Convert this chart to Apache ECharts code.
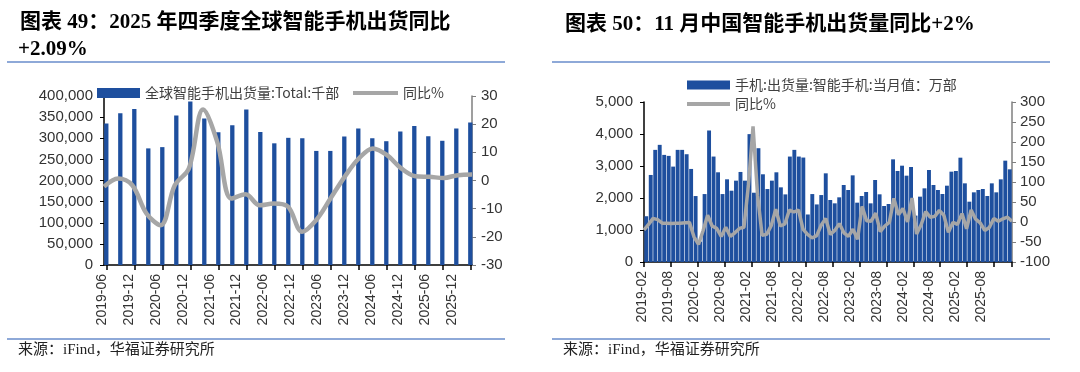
<!DOCTYPE html>
<html><head><meta charset="utf-8">
<script src="https://cdn.jsdelivr.net/npm/echarts@6/dist/echarts.min.js"></script>
<style>html,body{margin:0;padding:0;background:#fff}#c{width:1080px;height:372px}</style>
</head><body><div id="c"></div>
<script>
// ---------- Left chart: global smartphone shipments (quarterly) ----------
const quarters = ['2019-06','2019-09','2019-12','2020-03','2020-06','2020-09','2020-12','2021-03','2021-06','2021-09','2021-12','2022-03','2022-06','2022-09','2022-12','2023-03','2023-06','2023-09','2023-12','2024-03','2024-06','2024-09','2024-12','2025-03','2025-06','2025-09','2025-12'];
const globalShip = [335000,359000,369000,276000,279000,354000,387000,347000,314000,331000,368000,315000,288000,301000,300000,270000,270000,304000,323000,300000,293000,316000,329000,305000,294000,323000,337000];
const globalYoY = [-2.2,0.7,-1.7,-11.7,-15.9,-1.7,4.3,25.2,13.7,-6.4,-4.9,-8.8,-8.2,-9.3,-18.2,-14.0,-6.4,1.3,7.8,11.4,9.0,4.3,1.5,1.3,0.9,1.9,2.09];
const leftAxisL = {min:0, max:400000, interval:50000};
const leftAxisR = {min:-30, max:30, interval:10};

// ---------- Right chart: China smartphone shipments (monthly, 万部) ----------
const months = ['2019-02','2019-03','2019-04','2019-05','2019-06','2019-07','2019-08','2019-09','2019-10','2019-11','2019-12',
'2020-01','2020-02','2020-03','2020-04','2020-05','2020-06','2020-07','2020-08','2020-09','2020-10','2020-11','2020-12',
'2021-01','2021-02','2021-03','2021-04','2021-05','2021-06','2021-07','2021-08','2021-09','2021-10','2021-11','2021-12',
'2022-01','2022-02','2022-03','2022-04','2022-05','2022-06','2022-07','2022-08','2022-09','2022-10','2022-11','2022-12',
'2023-01','2023-02','2023-03','2023-04','2023-05','2023-06','2023-07','2023-08','2023-09','2023-10','2023-11','2023-12',
'2024-01','2024-02','2024-03','2024-04','2024-05','2024-06','2024-07','2024-08','2024-09','2024-10','2024-11','2024-12',
'2025-01','2025-02','2025-03','2025-04','2025-05','2025-06','2025-07','2025-08','2025-09','2025-10','2025-11'];
const chinaShip = [1430,2720,3504,3661,3347,3316,2981,3504,3504,3368,2908,
2061,638,2123,4111,3295,2803,2123,2584,2228,2542,2814,2542,
3996,2165,3556,2741,2280,2542,2803,2333,2113,3295,3504,3295,
3264,1485,2123,1799,2092,2771,1938,1833,2021,2406,2250,2708,
1854,2063,2188,1833,2563,2115,1750,1813,3208,2844,3010,2698,
2969,1450,2042,2302,2875,2406,2250,2125,2385,2823,2844,3260,
2458,1885,2177,2250,2281,2063,2458,2177,2583,3167,2896];
const chinaYoY = [-20,-6,9,6,-3,-3,-4,-3,-3,-2,-1,
-37,-56,-22,17,-10,-16,-36,-13,-36,-27,-16,-13,
94,239,67,-33,-31,-9,32,-10,-5,30,25,30,
-18,-31,-40,-34,-8,9,-31,-21,-4,-27,-36,-18,
-43,39,3,2,22,-24,-10,-1,59,18,34,0,
60,-30,-7,26,12,14,29,17,-26,-1,-6,21,
-17,30,7,-2,-21,-14,9,2,8,12,2];
const rightAxisL = {min:0, max:5000, interval:1000};
const rightAxisR = {min:-100, max:300, interval:50};

const BLUE = '#1E4F9E', GRAY = '#A6A6A6', SEP = '#8EA9D8';
const NUM_FONT = '"Liberation Sans", Arial, sans-serif';
const CJK = '"Noto Sans CJK SC", sans-serif';
const TITLE_FONT = 'bold 21px "Liberation Serif", "Noto Sans CJK SC", serif';
const SRC_FONT = '15px "Liberation Serif", "Noto Sans CJK SC", serif';
const fmtThousands = v => v.toLocaleString('en-US');

const yLabel = {fontSize:15, color:'#333', fontFamily:NUM_FONT};
const xLabel = {fontSize:14, color:'#333', fontFamily:NUM_FONT, rotate:90};
const legendText = {fontSize:14, color:'#404040', fontFamily:CJK, lineHeight:14};

const chart = echarts.init(document.getElementById('c'), null, {renderer:'canvas'});
const option = {
  animation:false,
  backgroundColor:'#fff',
  grid:[
    {left:104, right:608, top:96, bottom:107},      // 0 left: line + axes
    {left:106.3, right:609.7, top:96, bottom:107},  // 1 left: bars
    {left:102, right:628, top:96, bottom:107},      // 2 left: category labels
    {left:644, right:68, top:102, bottom:110},      // 3 right: bars + line + axes
    {left:642, right:86, top:102, bottom:110}       // 4 right: category labels
  ],
  xAxis:[
    {gridIndex:0, type:'category', data:quarters, boundaryGap:false,
     axisLine:{lineStyle:{color:'#000', width:1.5}}, axisTick:{show:false}, axisLabel:{show:false}},
    {gridIndex:1, type:'category', data:quarters, boundaryGap:false,
     axisLine:{show:false}, axisTick:{show:true, interval:1, length:5, lineStyle:{color:'#000', width:1.5}}, axisLabel:{show:false}},
    {gridIndex:2, type:'category', data:quarters, boundaryGap:false,
     axisLine:{show:false}, axisTick:{show:false}, axisLabel:Object.assign({interval:1, margin:9}, xLabel)},
    {gridIndex:3, type:'category', data:months, boundaryGap:true,
     axisLine:{lineStyle:{color:'#000', width:1.5}}, axisTick:{show:true, interval:5, length:5, lineStyle:{color:'#000', width:1.5}}, axisLabel:{show:false}},
    {gridIndex:3, type:'category', data:months, boundaryGap:false, show:false},
    {gridIndex:4, type:'category', data:months, boundaryGap:false,
     axisLine:{show:false}, axisTick:{show:false}, axisLabel:Object.assign({interval:5, margin:9}, xLabel)}
  ],
  yAxis:[
    Object.assign({gridIndex:0, type:'value', position:'left',
     axisLine:{show:true, lineStyle:{color:'#000', width:1.5}}, axisTick:{show:true, length:4, lineStyle:{color:'#000'}},
     splitLine:{show:false}, axisLabel:Object.assign({margin:11, formatter:fmtThousands}, yLabel)}, leftAxisL),
    Object.assign({gridIndex:0, type:'value', position:'right',
     axisLine:{show:true, lineStyle:{color:'#7F7F7F', width:1.5}}, axisTick:{show:true, length:4, lineStyle:{color:'#7F7F7F'}},
     splitLine:{show:false}, axisLabel:Object.assign({margin:9}, yLabel)}, leftAxisR),
    Object.assign({gridIndex:1, type:'value', show:false, splitLine:{show:false}}, leftAxisL),
    {gridIndex:2, type:'value', show:false, splitLine:{show:false}},
    Object.assign({gridIndex:3, type:'value', position:'left',
     axisLine:{show:true, lineStyle:{color:'#000', width:1.5}}, axisTick:{show:true, length:4, lineStyle:{color:'#000'}},
     splitLine:{show:false}, axisLabel:Object.assign({margin:11, formatter:fmtThousands}, yLabel)}, rightAxisL),
    Object.assign({gridIndex:3, type:'value', position:'right',
     axisLine:{show:true, lineStyle:{color:'#7F7F7F', width:1.5}}, axisTick:{show:true, length:4, lineStyle:{color:'#7F7F7F'}},
     splitLine:{show:false}, axisLabel:Object.assign({margin:8}, yLabel)}, rightAxisR),
    {gridIndex:4, type:'value', show:false, splitLine:{show:false}}
  ],
  legend:[
    {left:97, top:86, padding:0, icon:'rect', itemWidth:43, itemHeight:10, itemGap:0,
     data:['全球智能手机出货量:Total:千部'], textStyle:legendText},
    {left:353, top:86, padding:0, icon:'rect', itemWidth:45, itemHeight:4, itemGap:0,
     data:['同比%'], textStyle:legendText},
    {left:687, top:78, padding:0, icon:'rect', itemWidth:43, itemHeight:9, itemGap:0,
     data:['手机:出货量:智能手机:当月值：万部'], textStyle:legendText},
    {left:687, top:97, padding:0, icon:'rect', itemWidth:43, itemHeight:4, itemGap:0,
     data:['同比% '], textStyle:legendText, formatter:n => n.trim()}
  ],
  series:[
    {name:'全球智能手机出货量:Total:千部', type:'bar', xAxisIndex:1, yAxisIndex:2, data:globalShip,
     barWidth:4.3, itemStyle:{color:BLUE}, z:2},
    {name:'同比%', type:'line', xAxisIndex:0, yAxisIndex:1, data:globalYoY, smooth:0.35,
     symbol:'none', lineStyle:{color:GRAY, width:4.5}, itemStyle:{color:GRAY}, z:3},
    {name:'手机:出货量:智能手机:当月值：万部', type:'bar', xAxisIndex:3, yAxisIndex:4, data:chinaShip,
     barWidth:'87%', itemStyle:{color:BLUE}, z:2},
    {name:'同比% ', type:'line', xAxisIndex:4, yAxisIndex:5, data:chinaYoY,
     symbol:'none', lineStyle:{color:GRAY, width:3.5}, itemStyle:{color:GRAY}, z:3}
  ],
  graphic:[
    {type:'text', x:20, y:23, style:{text:'图表 49：2025 年四季度全球智能手机出货同比', font:TITLE_FONT, fill:'#000', verticalAlign:'middle'}},
    {type:'text', x:18, y:50, style:{text:'+2.09%', font:TITLE_FONT, fill:'#000', verticalAlign:'middle'}},
    {type:'text', x:565, y:25, style:{text:'图表 50：11 月中国智能手机出货量同比+2%', font:TITLE_FONT, fill:'#000', verticalAlign:'middle'}},
    {type:'line', shape:{x1:7, y1:62, x2:505, y2:62}, style:{stroke:SEP, lineWidth:2}},
    {type:'line', shape:{x1:552, y1:62, x2:1050, y2:62}, style:{stroke:SEP, lineWidth:2}},
    {type:'line', shape:{x1:7, y1:339, x2:505, y2:339}, style:{stroke:SEP, lineWidth:2}},
    {type:'line', shape:{x1:552, y1:339, x2:1050, y2:339}, style:{stroke:SEP, lineWidth:2}},
    {type:'text', x:18, y:350, style:{text:'来源：iFind，华福证券研究所', font:SRC_FONT, fill:'#222', verticalAlign:'middle'}},
    {type:'text', x:563, y:350, style:{text:'来源：iFind，华福证券研究所', font:SRC_FONT, fill:'#222', verticalAlign:'middle'}}
  ]
};
chart.setOption(option);
</script></body></html>
